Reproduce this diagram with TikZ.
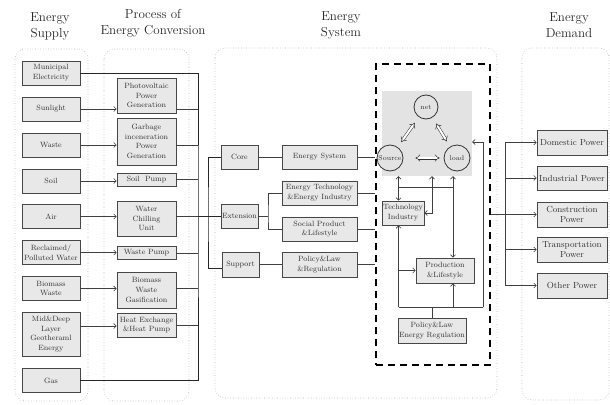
\documentclass[tikz,border=0pt]{standalone}
\usetikzlibrary{arrows.meta,calc}
\begin{document}
\begin{tikzpicture}[x=1pt,y=-1pt,
  box/.style={draw=black!72, line width=0.8pt, fill=black!9, align=center,
    font=\fontsize{7.6}{9.8}\selectfont, text=black!80, inner sep=1pt},
  dbox/.style={box, font=\fontsize{8.8}{10.5}\selectfont},
  cont/.style={draw=black!30, dotted, line width=0.6pt, rounded corners=10pt},
  head/.style={align=center, font=\fontsize{13}{16}\selectfont, text=black!85},
  ln/.style={draw=black!75, line width=0.6pt},
  arr/.style={ln, -{Straight Barb[length=2.5pt,width=5pt]}},
  darr/.style={ln, {Straight Barb[length=2.5pt,width=5pt]}-{Straight Barb[length=2.5pt,width=5pt]}},
  harr/.style={draw=black!80, line width=0.5pt, double=white, double distance=2pt,
    {Implies}-{Implies}},
  circ/.style={circle, draw=black!80, line width=0.8pt, fill=black!11, inner sep=0pt,
    font=\fontsize{7}{8}\selectfont, text=black!80}
]
\useasboundingbox (0,0) rectangle (610,404);

% headers
\node[head] (h1) at (50,26) {Energy\\Supply};
\node[head] (h2) at (153,23) {Process of\\Energy Conversion};
\node[head] (h3) at (341,25) {Energy\\System};
\node[head] (h4) at (569,25) {Energy\\Demand};

% containers
\draw[cont] (15,49) rectangle (88,401);
\draw[cont] (104,49) rectangle (189,401);
\draw[cont] (215,48) rectangle (497,398);
\draw[cont] (522,48) rectangle (609,400);

% supply
\node[box, minimum width=58pt, minimum height=24pt] (me) at (51,73) {Municipal\\Electricity};
\node[box, minimum width=58pt, minimum height=24pt] (sun) at (51,109) {Sunlight};
\node[box, minimum width=58pt, minimum height=24pt] (waste) at (51,145) {Waste};
\node[box, minimum width=58pt, minimum height=24pt] (soil) at (51,181) {Soil};
\node[box, minimum width=58pt, minimum height=24pt] (air) at (51,216.5) {Air};
\node[box, minimum width=58pt, minimum height=24pt] (recl) at (51,252.5) {Reclaimed/\\Polluted Water};
\node[box, minimum width=58pt, minimum height=24pt] (bio) at (51,288.5) {Biomass\\Waste};
\node[box, minimum width=58pt, minimum height=44pt] (mid) at (51,334) {Mid\&Deep\\Layer\\Geotheraml\\Energy};
\node[box, minimum width=58pt, minimum height=24pt] (gas) at (51,380.5) {Gas};

% conversion
\node[box, minimum width=59pt, minimum height=35pt] (pv) at (146.5,95.5) {Photovoltaic\\Power\\Generation};
\node[box, minimum width=59pt, minimum height=47pt] (garb) at (146.5,141.5) {Garbage\\inceneration\\Power\\Generation};
\node[box, minimum width=59pt, minimum height=13pt] (spump) at (146.5,179.5) {Soil\ \ Pump};
\node[box, minimum width=59pt, minimum height=35pt] (wcu) at (146.5,218.5) {Water\\Chilling\\Unit};
\node[box, minimum width=59pt, minimum height=13pt] (wpump) at (146.5,253) {Waste Pump};
\node[box, minimum width=59pt, minimum height=36pt] (bwg) at (146.5,290) {Biomass\\Waste\\Gasification};
\node[box, minimum width=59pt, minimum height=24pt] (hex) at (146.5,325) {Heat Exchange\\\&Heat Pump};

% supply -> conversion arrows
\coordinate (m1) at ($(mid.east)+(0,-8)$);
\draw[arr] (sun.east) -- (sun.east -| pv.west);
\draw[arr] (waste.east) -- (waste.east -| garb.west);
\draw[arr] (soil.east) -- (soil.east -| spump.west);
\draw[arr] (air.east) -- (air.east -| wcu.west);
\draw[arr] (recl.east) -- (recl.east -| wpump.west);
\draw[arr] (bio.east) -- (bio.east -| bwg.west);
\draw[arr] (m1) -- (m1 -| hex.west);

% bus
\coordinate (bus) at (198,216);
\draw[ln, draw=black!85] (me.east) -| (bus) |- (gas.east);
\draw[ln] (pv.east |- sun.east) -- (bus |- sun.east);
\draw[ln] (garb.east |- waste.east) -- (bus |- waste.east);
\draw[ln] (spump.east) -- (bus |- spump.east);
\draw[ln] (wcu.east |- bus) -- (bus);
\draw[ln] (wpump.east) -- (bus |- wpump.east);
\draw[ln] (bwg.east |- bio.east) -- (bus |- bio.east);
\draw[ln] (hex.east) -- (bus |- hex.east);

% system
\node[box, minimum width=37pt, minimum height=24pt] (core) at (239.5,157) {Core};
\node[box, minimum width=37pt, minimum height=24pt] (ext) at (239.5,216) {Extension};
\node[box, minimum width=37pt, minimum height=25pt] (sup) at (240.5,264.5) {Support};
\node[box, minimum width=75pt, minimum height=24pt] (es) at (319.5,157) {Energy System};
\node[box, minimum width=75pt, minimum height=24pt] (ete) at (319.5,193) {Energy Technology\\\&Energy Industry};
\node[box, minimum width=75pt, minimum height=24pt] (spl) at (319.5,229) {Social Product\\\&Lifestyle};
\node[box, minimum width=75pt, minimum height=25pt] (pol) at (319.5,264.5) {Policy\&Law\\\&Regulation};

\coordinate (br1) at (208,216);
\coordinate (br2) at (268,216);
\coordinate (s1) at ($(sup.west)+(0,4)$);
\draw[ln, draw=black!85] (bus) -- (ext.west);
\draw[ln, draw=black!85] (core.west) -| (br1) |- (s1);
\draw[ln] (core.east) -- (es.west);
\draw[ln] (ext.east) -- (br2);
\draw[ln] (ete.west) -| (br2) |- (spl.west);
\draw[ln] (sup.east) -- (pol.west);

% dashed box
\node[draw=black, line width=1.7pt, dash pattern=on 7pt off 5pt, minimum width=114pt, minimum height=301pt, inner sep=0pt] (dbx) at (433,214.5) {};
\draw[ln] (es.east) -- (es.east -| dbx.west);
\draw[ln] (ete.east) -- (ete.east -| dbx.west);
\draw[ln] (spl.east) -- (spl.east -| dbx.west);
\draw[ln] (pol.east) -- (pol.east -| dbx.west);

% gray square and circles
\node[fill=black!11, minimum width=90pt, minimum height=85pt, inner sep=0pt] (sq) at (427,133.5) {};
\node[circ, minimum size=24pt] (net) at (426,107) {net};
\node[circ, minimum size=26pt] (src) at (390,158) {Source};
\node[circ, minimum size=26pt] (load) at (457,158) {load};
\draw[harr, shorten <=12pt, shorten >=4pt] (src) -- (load);
\draw[harr, shorten <=6pt, shorten >=7pt] (src) -- (net);
\draw[harr, shorten <=7pt, shorten >=6pt] (net) -- (load);

% inner boxes
\node[box, minimum width=42pt, minimum height=24pt] (tech) at (403,213) {Technology\\Industry};
\node[box, minimum width=58pt, minimum height=25pt] (prod) at (445,270.5) {Production\\\&Lifestyle};
\node[box, minimum width=68pt, minimum height=25pt] (pole) at (432,330.5) {Policy\&Law\\Energy Regulation};

\coordinate (a1) at (398.5,187);
\coordinate (a2) at (432,187);
\coordinate (a3) at (453,187);
\coordinate (b1) at (398.5,307);
\coordinate (b2) at (483,307);
\coordinate (c1) at (483,142);
\draw[darr] (a1 |- sq.south) -- (a1 |- tech.north);
\draw[ln] (a1) -- (a3);
\draw[darr] (a2 |- sq.south) |- (tech.east);
\draw[darr] (a3 |- sq.south) -- (a3 |- prod.north);
\draw[arr] (b1) -- (a1 |- tech.south);
\draw[arr] (a1 |- prod.west) -- (prod.west);
\draw[ln] (b1) -- (b2);
\draw[arr] (b2) -- (c1) -- (c1 -| sq.east);
\draw[arr] (a3 |- b1) -- (a3 |- prod.south);
\draw[ln] (pole.north) -- (pole.north |- b1);

% demand
\node[dbox, minimum width=70pt, minimum height=25pt] (dom) at (572,142.5) {Domestic Power};
\node[dbox, minimum width=70pt, minimum height=24pt] (ind) at (572,178) {Industrial Power};
\node[dbox, minimum width=70pt, minimum height=25pt] (con) at (572,214.5) {Construction\\Power};
\node[dbox, minimum width=70pt, minimum height=25pt] (tra) at (572,249.5) {Transportation\\Power};
\node[dbox, minimum width=70pt, minimum height=25pt] (oth) at (572,285.5) {Other Power};

\coordinate (br3) at (505,214.5);
\draw[ln] (dbx.east) -- (br3);
\draw[arr] (br3) -- (con.west);
\draw[arr] (br3) |- (dom.west);
\draw[arr] (br3) |- (ind.west);
\draw[arr] (br3) |- (tra.west);
\draw[arr] (br3) |- (oth.west);
\end{tikzpicture}
\end{document}
